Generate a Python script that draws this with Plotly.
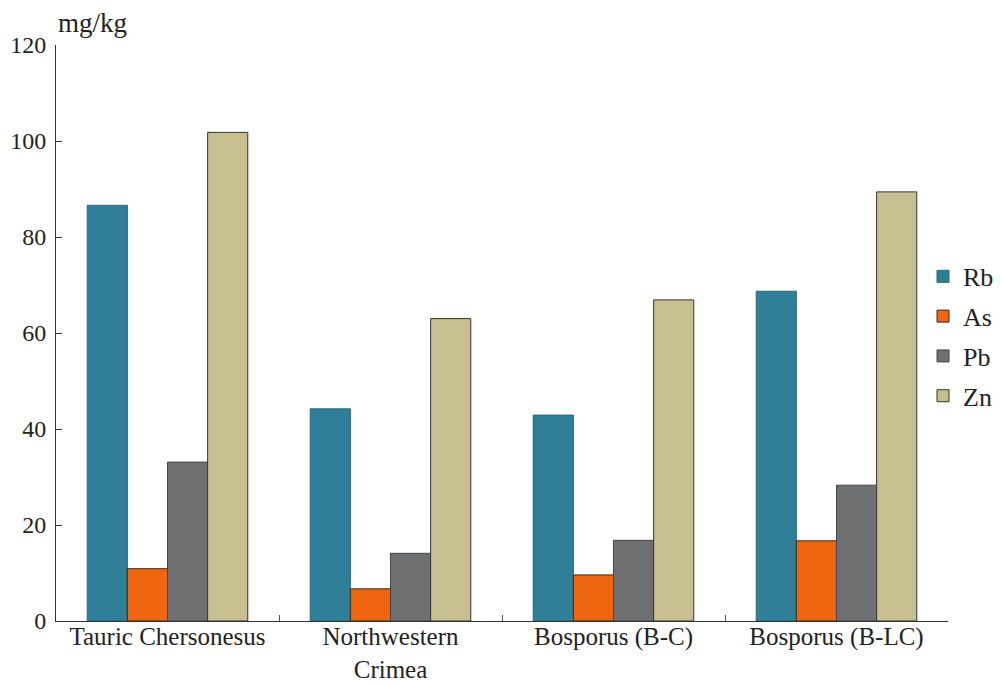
import plotly.graph_objects as go

categories = ["Tauric Chersonesus", "Northwestern<br>Crimea", "Bosporus (B-C)", "Bosporus (B-LC)"]
series_names = ["Rb", "As", "Pb", "Zn"]
rb = [86.6, 44.2, 42.9, 68.7]
as_ = [10.9, 6.7, 9.6, 16.7]
pb = [33.1, 14.1, 16.8, 28.3]
zn = [101.8, 63.0, 66.9, 89.4]
colors = ["#2f7f98", "#ee6710", "#6f7072", "#c7bf8f"]
line_colors = ["#286779", "#3a2a20", "#454545", "#333333"]

fig = go.Figure()
for i, (name, vals) in enumerate(zip(series_names, [rb, as_, pb, zn])):
    fig.add_trace(go.Bar(
        x=categories, y=vals, name=name,
        marker=dict(color=colors[i], line=dict(color=line_colors[i], width=1)),
        legendgroup=name,
    ))

font_family = "Liberation Serif"
fig.update_layout(
    width=993, height=677,
    margin=dict(l=48, r=53, t=37, b=64, autoexpand=False),
    paper_bgcolor="white", plot_bgcolor="white",
    barmode="group", bargap=0.28, bargroupgap=0,
    font=dict(family=font_family, size=25, color="#222222"),
    showlegend=True,
    legend=dict(x=0.972, xanchor="left", y=0.639, yanchor="top",
                font=dict(family=font_family, size=26, color="#222222"),
                tracegroupgap=3, itemwidth=30, bgcolor="rgba(0,0,0,0)"),
    xaxis=dict(showline=True, linecolor="#333333", linewidth=1, automargin=False,
               ticks="inside", tickson="boundaries", ticklen=6, tickcolor="#555555",
               ticklabelstandoff=-7,
               showgrid=False, tickfont=dict(family=font_family, size=25, color="#222222")),
    yaxis=dict(range=[0, 120], dtick=20, showline=True, linecolor="#333333", linewidth=1,
               automargin=False, ticklabelstandoff=4,
               ticks="inside", ticklen=6, tickcolor="#333333", showgrid=False, zeroline=False,
               tickfont=dict(family=font_family, size=24, color="#222222")),
    annotations=[dict(text="mg/kg", xref="paper", yref="paper", x=0.0, y=1.0,
                      xanchor="left", yanchor="bottom", showarrow=False, yshift=5,
                      font=dict(family=font_family, size=27, color="#222222"))],
)

fig.write_html("out.html")
